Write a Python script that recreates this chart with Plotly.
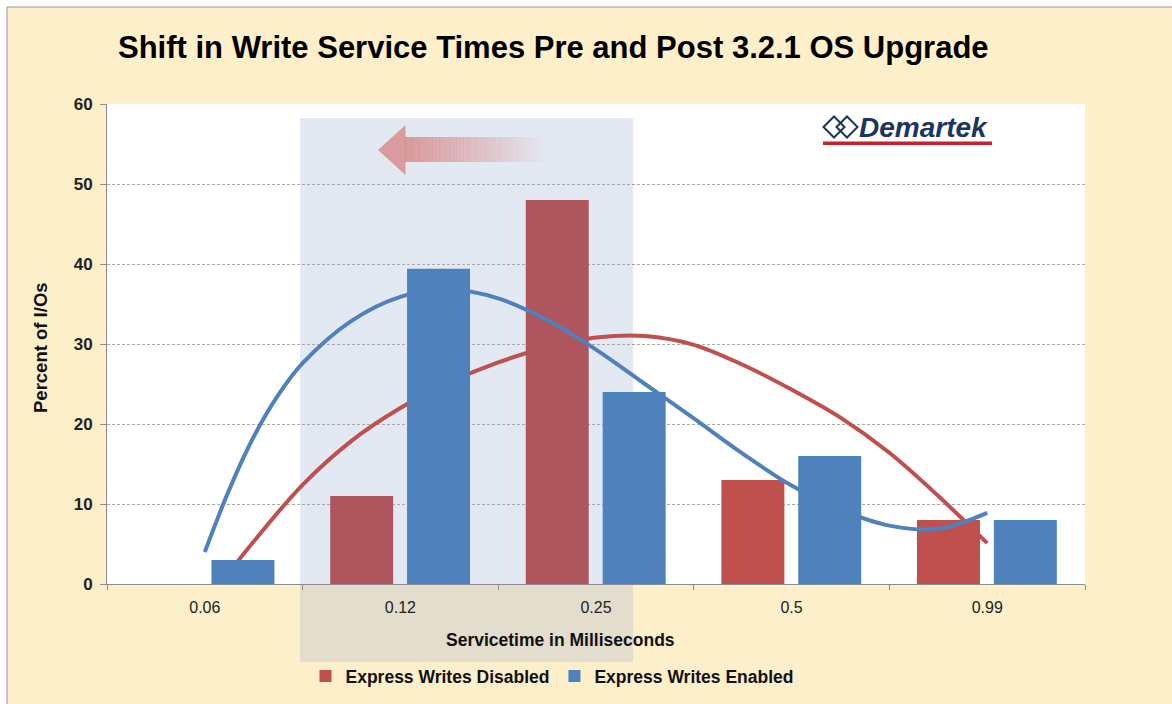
import plotly.graph_objects as go

# ---------------- data ----------------
categories = ["0.06", "0.12", "0.25", "0.5", "0.99"]
disabled = [0, 11, 48, 13, 8]          # Express Writes Disabled (% of I/Os)
enabled = [3, 39.4, 24, 16, 8]         # Express Writes Enabled (% of I/Os)

# trend lines (x in category-index units)
enabled_trend_x = [0, 0.125, 0.25, 0.375, 0.5, 0.75, 1.0, 1.25, 1.5, 1.75,
                   2.0, 2.25, 2.5, 2.75, 3.0, 3.25, 3.5, 3.75, 4.0]
enabled_trend_y = [4.0, 11.8, 18.4, 23.6, 27.6, 32.9, 35.9, 36.8, 35.7, 33.0,
                   29.3, 25.0, 20.7, 16.3, 12.3, 9.3, 7.3, 6.9, 8.9]
disabled_trend_x = [0.078, 0.25, 0.5, 0.75, 1.0, 1.25, 1.5, 1.75, 2.0,
                    2.25, 2.5, 2.75, 3.0, 3.25, 3.5, 3.75, 4.0]
disabled_trend_y = [0, 5.3, 12.4, 17.9, 22.0, 25.2, 27.7, 29.6, 30.8,
                    31.0, 29.9, 27.4, 24.3, 20.8, 16.4, 11.0, 5.1]

# ---------------- geometry helpers ----------------
W, H = 1172, 704
L, R, T, B = 107, 87, 104, 120
PW, PH = W - L - R, H - T - B


def px(x):
    return (x - L) / PW


def py(y):
    return (H - B - y) / PH


RED = "#C0504D"
RED_SHADED = "#AE555D"
BLUE = "#4F81BD"
NAVY = "#1B3461"
FONT = "Liberation Sans, Arial, sans-serif"

shade_x0, shade_x1 = 0.487, 2.189   # shaded band, in category-index units
pos = list(range(len(categories)))
red_colors = [RED_SHADED if shade_x0 < p < shade_x1 else RED for p in pos]

fig = go.Figure()
fig.add_trace(go.Scatter(x=disabled_trend_x, y=disabled_trend_y, mode="lines",
                         line=dict(color=RED, width=4, shape="spline", smoothing=1),
                         xaxis="x", yaxis="y", showlegend=False, hoverinfo="skip"))
fig.add_trace(go.Bar(x=pos, y=disabled, name="Express Writes Disabled",
                     marker=dict(color=red_colors, line_width=0),
                     width=0.322, offset=-0.359, xaxis="x", yaxis="y2"))
fig.add_trace(go.Scatter(x=enabled_trend_x, y=enabled_trend_y, mode="lines",
                         line=dict(color=BLUE, width=4, shape="spline", smoothing=1),
                         xaxis="x", yaxis="y3", showlegend=False, hoverinfo="skip"))
fig.add_trace(go.Bar(x=pos, y=enabled, name="Express Writes Enabled",
                     marker=dict(color=BLUE, line_width=0),
                     width=0.322, offset=0.034, xaxis="x", yaxis="y4"))

shapes = []
# outer yellow panel
shapes.append(dict(type="rect", xref="paper", yref="paper", layer="below",
                   x0=px(7), x1=px(W + 5), y0=py(H + 5), y1=py(7),
                   fillcolor="#FEEFCB", line=dict(color="#9A9A9A", width=1)))
# white plot area
shapes.append(dict(type="rect", xref="paper", yref="paper", layer="below",
                   x0=0, x1=1, y0=0, y1=1, fillcolor="white", line_width=0))
# translucent band
shapes.append(dict(type="rect", xref="paper", yref="paper", layer="below",
                   x0=(shade_x0 + 0.5) / 5, x1=(shade_x1 + 0.5) / 5,
                   y0=py(662), y1=py(118),
                   fillcolor="rgba(143,167,207,0.25)", line_width=0))
# gradient arrow
head = "M {},{} L {},{} L {},{} Z".format(px(378), py(150), px(405.5), py(125),
                                         px(405.5), py(175))
shapes.append(dict(type="path", path=head, xref="paper", yref="paper", layer="below",
                   fillcolor="rgba(213,125,124,0.72)", line_width=0))
n = 40
sx0, sx1 = 405, 543
for i in range(n):
    a = 0.72 * (1 - (i + 0.5) / n) + 0.02
    x0 = sx0 + (sx1 - sx0) * i / n
    x1 = sx0 + (sx1 - sx0) * (i + 1) / n + 0.3
    shapes.append(dict(type="rect", xref="paper", yref="paper", layer="below",
                       x0=px(x0), x1=px(x1), y0=py(162), y1=py(137),
                       fillcolor="rgba(213,125,124,{:.3f})".format(a), line_width=0))
# logo diamonds and underline
for cx in (834, 847):
    d = "M {},{} L {},{} L {},{} L {},{} Z".format(px(cx - 10.5), py(127), px(cx), py(116.5),
                                                 px(cx + 10.5), py(127), px(cx), py(137.5))
    shapes.append(dict(type="path", path=d, xref="paper", yref="paper", layer="above",
                       fillcolor="rgba(0,0,0,0)", line=dict(color=NAVY, width=2)))
shapes.append(dict(type="rect", xref="paper", yref="paper", layer="above",
                   x0=px(823), x1=px(992), y0=py(145), y1=py(141.5),
                   fillcolor="#C8202F", line_width=0))

annotations = [
    dict(text="Shift in Write Service Times Pre and Post 3.2.1 OS Upgrade",
         xref="paper", yref="paper", x=px(553), y=py(48), showarrow=False,
         xanchor="center", yanchor="middle",
         font=dict(family="Liberation Sans Narrow, Arial Narrow, Liberation Sans, sans-serif",
                   size=31, color="#000000", weight="bold")),
    dict(text="Percent of I/Os", xref="paper", yref="paper", x=px(40), y=py(348),
         showarrow=False, textangle=-90, xanchor="center", yanchor="middle",
         font=dict(family=FONT, size=18.5, color="#111111", weight="bold")),
    dict(text="Servicetime in Milliseconds", xref="paper", yref="paper",
         x=px(560), y=py(640), showarrow=False, xanchor="center", yanchor="middle",
         font=dict(family=FONT, size=17.5, color="#111111", weight="bold")),
    dict(text="<i>Demartek</i>", xref="paper", yref="paper", x=px(857), y=py(127),
         showarrow=False, xanchor="left", yanchor="middle",
         font=dict(family=FONT, size=28, color=NAVY, weight="bold")),
]

axis_line = "#8C8C8C"
fig.update_layout(
    width=W, height=H,
    margin=dict(l=L, r=R, t=T, b=B, pad=0, autoexpand=False),
    paper_bgcolor="white",
    plot_bgcolor="rgba(0,0,0,0)",
    barmode="overlay",
    font=dict(family=FONT, color="#222222"),
    shapes=shapes,
    annotations=annotations,
    showlegend=True,
    legend=dict(orientation="h", xref="container", yref="container",
                x=552 / W, y=1 - 676 / H, xanchor="center", yanchor="middle",
                bgcolor="rgba(0,0,0,0)", font=dict(family=FONT, size=17.5, color="#111111",
                                                   weight="bold"),
                traceorder="normal", itemwidth=30),
    xaxis=dict(range=[-0.5, 4.5], tickvals=pos, ticktext=categories, ticks="",
               showline=True, linecolor=axis_line, linewidth=1, showgrid=False,
               zeroline=False, tickfont=dict(size=16, color="#222222"),
               ticklabelstandoff=9, automargin=False,
               minor=dict(tickmode="array", tickvals=[-0.5, 0.5, 1.5, 2.5, 3.5, 4.5],
                          ticks="outside", ticklen=5, tickcolor=axis_line, showgrid=False)),
    yaxis=dict(range=[0, 60], dtick=10, showgrid=True, gridcolor="#AAAAAA", gridwidth=1,
               griddash="3px,2px", showline=True, linecolor=axis_line, linewidth=1,
               ticks="outside", ticklen=6, tickcolor=axis_line, zeroline=False,
               automargin=False,
               tickfont=dict(size=17, color="#222222", weight="bold"), ticklabelstandoff=4),
    yaxis2=dict(range=[0, 60], overlaying="y", visible=False),
    yaxis3=dict(range=[0, 60], overlaying="y", visible=False),
    yaxis4=dict(range=[0, 60], overlaying="y", visible=False),
)

fig.write_html("out.html", config={"displayModeBar": False},
               post_script="document.body.style.margin='0';")
